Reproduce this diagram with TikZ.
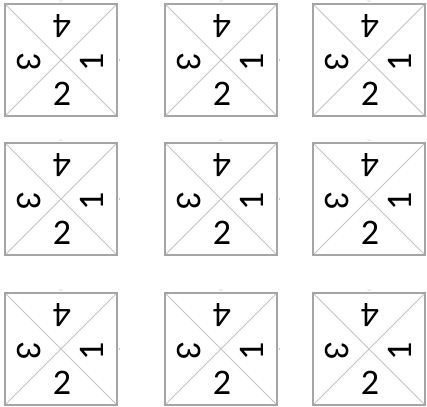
\documentclass[tikz,border=0pt]{standalone}
\usepackage{fontspec}
\setmainfont{Carlito}
\definecolor{sqframe}{RGB}{165,165,165}
\definecolor{sqdiag}{RGB}{196,196,196}
\definecolor{sqmark}{RGB}{200,200,200}
\usetikzlibrary{calc}

\begin{document}
\begin{tikzpicture}[x=1pt, y=-1pt,
    frame/.style={draw=sqframe, line width=1.2pt},
    diag/.style={draw=sqdiag, line width=0.8pt},
    handle/.style={draw=sqmark, line width=0.5pt},
    digit/.style={font=\fontsize{36}{36}\selectfont, inner sep=0pt}]

\useasboundingbox (0,0) rectangle (427,406);

% === Rejilla 3x3 de cuadrados ===
\foreach \c/\x in {1/5, 2/165, 3/313} {
    \foreach \r/\y in {1/4, 2/143, 3/293} {
        \begin{scope}[shift={(\x,\y)}]
            % Esquinas y centro
            \coordinate (tl-\r\c) at (0,0);
            \coordinate (tr-\r\c) at (112,0);
            \coordinate (br-\r\c) at (112,112);
            \coordinate (bl-\r\c) at (0,112);
            \coordinate (top-\r\c) at (56,-2.5);
            \coordinate (side-\r\c) at (114.5,56);

            % Diagonales
            \draw[diag] (tl-\r\c) -- (br-\r\c);
            \draw[diag] (tr-\r\c) -- (bl-\r\c);
            \draw[frame] (tl-\r\c) rectangle (br-\r\c);

            % Marcas pequenas
            \draw[handle] ($(top-\r\c)+(-1.5,-1)$) -- (top-\r\c) -- ($(top-\r\c)+(1.5,-1)$);
            \draw[handle] ($(side-\r\c)+(0,-1)$) -- ($(side-\r\c)+(0,1)$);

            % Numeros
            \node[digit, rotate=180] (four-\r\c) at (57,22) {4};
            \node[digit, rotate=90] (one-\r\c) at (87,58) {1};
            \node[digit] (two-\r\c) at (57,90) {2};
            \node[digit, rotate=-90] (three-\r\c) at (24,58) {3};
        \end{scope}
    }
}

\end{tikzpicture}
\end{document}
